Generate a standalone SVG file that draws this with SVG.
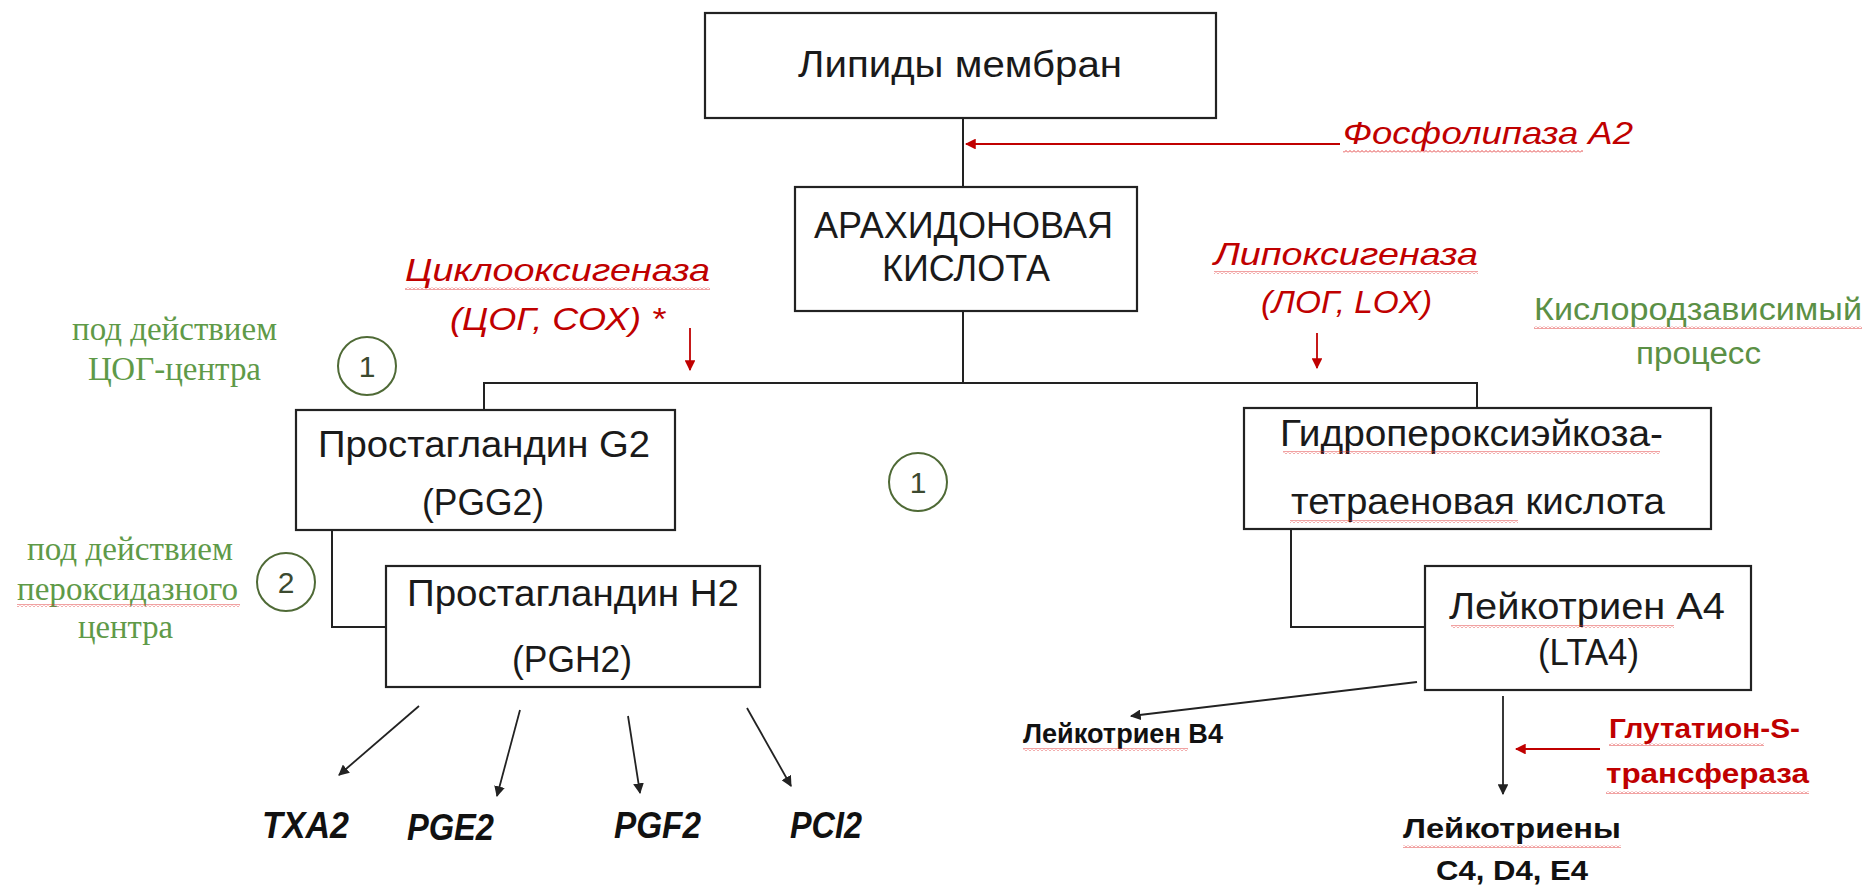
<svg xmlns="http://www.w3.org/2000/svg" width="1870" height="888" viewBox="0 0 1870 888">
<defs>
<style>
.box{fill:#fff;stroke:#222;stroke-width:2.2}
.bt{font-family:"Liberation Sans",Arial,sans-serif;font-size:36px;fill:#1a1a1a}
.red{font-family:"Liberation Sans",Arial,sans-serif;font-size:32px;font-style:italic;fill:#c00000}
.gs{font-family:"Liberation Serif","Times New Roman",serif;font-size:33px;fill:#5f9a48}
.gn{font-family:"Liberation Sans",Arial,sans-serif;font-size:31px;fill:#5b9045}
.bl{font-family:"Liberation Sans",Arial,sans-serif;font-size:28px;font-weight:bold;fill:#111}
.rb{font-family:"Liberation Sans",Arial,sans-serif;font-size:28px;font-weight:bold;fill:#c00000}
.bi{font-family:"Liberation Sans",Arial,sans-serif;font-size:36px;font-weight:bold;font-style:italic;fill:#111}
.num{font-family:"Liberation Sans",Arial,sans-serif;font-size:30px;fill:#3c4a30;text-anchor:middle}
.circ{fill:none;stroke:#4f6a36;stroke-width:2}
.ln{fill:none;stroke:#222;stroke-width:2}
.ar{fill:none;stroke:#222;stroke-width:1.8;marker-end:url(#ah)}
.rar{fill:none;stroke:#c00000;stroke-width:1.8;marker-end:url(#rah)}
.wav{fill:url(#wavy)}
</style>
<marker id="ah" viewBox="0 0 10 10" refX="9" refY="5" markerWidth="6" markerHeight="6" orient="auto" markerUnits="strokeWidth">
<path d="M0,0 L10,5 L0,10 Z" fill="#222"/>
</marker>
<marker id="rah" viewBox="0 0 10 10" refX="9" refY="5" markerWidth="6" markerHeight="6" orient="auto" markerUnits="strokeWidth">
<path d="M0,0 L10,5 L0,10 Z" fill="#c00000"/>
</marker>
<pattern id="wavy" patternUnits="userSpaceOnUse" x="0" y="0" width="4" height="3">
<path d="M0,2.5 L2,0.5 L4,2.5" fill="none" stroke="#e03030" stroke-width="0.9"/>
</pattern>
</defs>

<g id="connectors">
<line class="ln" x1="963" y1="118" x2="963" y2="187"/>
<line class="ln" x1="963" y1="311" x2="963" y2="383"/>
<polyline class="ln" points="484,410 484,383 1477,383 1477,408"/>
<polyline class="ln" points="332,530 332,627 386,627"/>
<polyline class="ln" points="1291,529 1291,627 1425,627"/>
<line class="rar" x1="1340" y1="144" x2="966" y2="144"/>
<line class="rar" x1="690" y1="328" x2="690" y2="370"/>
<line class="rar" x1="1317" y1="333" x2="1317" y2="368"/>
<line class="rar" x1="1600" y1="749" x2="1516" y2="749"/>
<line class="ar" x1="419" y1="706" x2="339" y2="775"/>
<line class="ar" x1="520" y1="710" x2="497" y2="796"/>
<line class="ar" x1="628" y1="716" x2="640" y2="793"/>
<line class="ar" x1="747" y1="708" x2="791" y2="786"/>
<line class="ar" x1="1417" y1="682" x2="1131" y2="716"/>
<line class="ar" x1="1503" y1="696" x2="1503" y2="794"/>
</g>

<g id="lipids">
<rect class="box" x="705" y="13" width="511" height="105"/>
<text class="bt" x="798" y="77" textLength="324" lengthAdjust="spacingAndGlyphs">Липиды мембран</text>
</g>

<g id="arachidonic">
<rect class="box" x="795" y="187" width="342" height="124"/>
<text class="bt" x="814" y="238" textLength="299" lengthAdjust="spacingAndGlyphs">АРАХИДОНОВАЯ</text>
<text class="bt" x="882" y="281" textLength="168" lengthAdjust="spacingAndGlyphs">КИСЛОТА</text>
</g>

<g id="pgg2">
<rect class="box" x="296" y="410" width="379" height="120"/>
<text class="bt" x="318" y="457" textLength="332" lengthAdjust="spacingAndGlyphs">Простагландин G2</text>
<text class="bt" x="422" y="515" textLength="122" lengthAdjust="spacingAndGlyphs">(PGG2)</text>
</g>

<g id="pgh2">
<rect class="box" x="386" y="566" width="374" height="121"/>
<text class="bt" x="407" y="606" textLength="332" lengthAdjust="spacingAndGlyphs">Простагландин H2</text>
<text class="bt" x="512" y="672" textLength="120" lengthAdjust="spacingAndGlyphs">(PGH2)</text>
</g>

<g id="hpete">
<rect class="box" x="1244" y="408" width="467" height="121"/>
<text class="bt" x="1280" y="446" textLength="383" lengthAdjust="spacingAndGlyphs">Гидропероксиэйкоза-</text>
<text class="bt" x="1291" y="514" textLength="374" lengthAdjust="spacingAndGlyphs">тетраеновая кислота</text>
<rect class="wav" x="1283" y="451" width="377" height="3"/>
<rect class="wav" x="1290" y="520" width="228" height="3"/>
</g>

<g id="lta4">
<rect class="box" x="1425" y="566" width="326" height="124"/>
<text class="bt" x="1449" y="619" textLength="276" lengthAdjust="spacingAndGlyphs">Лейкотриен А4</text>
<text class="bt" x="1538" y="665" textLength="101" lengthAdjust="spacingAndGlyphs">(LTA4)</text>
<rect class="wav" x="1451" y="625" width="223" height="3"/>
</g>

<g id="pla2">
<text class="red" x="1343" y="144" textLength="290" lengthAdjust="spacingAndGlyphs">Фосфолипаза А2</text>
<rect class="wav" x="1343" y="150" width="240" height="3"/>
</g>

<g id="cox">
<text class="red" x="405" y="281" textLength="305" lengthAdjust="spacingAndGlyphs">Циклооксигеназа</text>
<rect class="wav" x="405" y="287" width="305" height="3"/>
<text class="red" x="450" y="330" textLength="215" lengthAdjust="spacingAndGlyphs">(ЦОГ, СОХ) *</text>
</g>

<g id="lox">
<text class="red" x="1214" y="265" textLength="264" lengthAdjust="spacingAndGlyphs">Липоксигеназа</text>
<rect class="wav" x="1214" y="271" width="264" height="3"/>
<text class="red" x="1261" y="313" textLength="171" lengthAdjust="spacingAndGlyphs">(ЛОГ, LOX)</text>
</g>

<g id="oxygen-note">
<text class="gn" x="1534" y="320" textLength="328" lengthAdjust="spacingAndGlyphs">Кислородзависимый</text>
<rect class="wav" x="1534" y="326" width="328" height="3"/>
<text class="gn" x="1636" y="364" textLength="125" lengthAdjust="spacingAndGlyphs">процесс</text>
</g>

<g id="cox-center-note">
<text class="gs" x="72" y="340" textLength="205" lengthAdjust="spacingAndGlyphs">под действием</text>
<text class="gs" x="88" y="380" textLength="173" lengthAdjust="spacingAndGlyphs">ЦОГ-центра</text>
<circle class="circ" cx="367" cy="366" r="29"/>
<text class="num" x="367" y="377">1</text>
</g>

<g id="perox-center-note">
<text class="gs" x="27" y="560" textLength="206" lengthAdjust="spacingAndGlyphs">под действием</text>
<text class="gs" x="17" y="600" textLength="221" lengthAdjust="spacingAndGlyphs">пероксидазного</text>
<rect class="wav" x="17" y="604" width="223" height="3"/>
<text class="gs" x="78" y="638" textLength="95" lengthAdjust="spacingAndGlyphs">центра</text>
<circle class="circ" cx="286" cy="582" r="29"/>
<text class="num" x="286" y="593">2</text>
</g>

<g id="mid-circle">
<circle class="circ" cx="918" cy="482" r="29"/>
<text class="num" x="918" y="493">1</text>
</g>

<g id="products-pg">
<text class="bi" x="262" y="838" textLength="87" lengthAdjust="spacingAndGlyphs">TXA2</text>
<text class="bi" x="407" y="840" textLength="87" lengthAdjust="spacingAndGlyphs">PGE2</text>
<text class="bi" x="614" y="838" textLength="87" lengthAdjust="spacingAndGlyphs">PGF2</text>
<text class="bi" x="790" y="838" textLength="72" lengthAdjust="spacingAndGlyphs">PCI2</text>
</g>

<g id="ltb4">
<text class="bl" x="1023" y="743" textLength="200" lengthAdjust="spacingAndGlyphs">Лейкотриен В4</text>
<rect class="wav" x="1023" y="748" width="165" height="3"/>
</g>

<g id="gst">
<text class="rb" x="1609" y="738" textLength="191" lengthAdjust="spacingAndGlyphs">Глутатион-S-</text>
<rect class="wav" x="1609" y="743" width="155" height="3"/>
<text class="rb" x="1606" y="783" textLength="203" lengthAdjust="spacingAndGlyphs">трансфераза</text>
<rect class="wav" x="1606" y="791" width="203" height="3"/>
</g>

<g id="ltc4">
<text class="bl" x="1403" y="838" textLength="218" lengthAdjust="spacingAndGlyphs">Лейкотриены</text>
<rect class="wav" x="1403" y="845" width="218" height="3"/>
<text class="bl" x="1436" y="880" textLength="152" lengthAdjust="spacingAndGlyphs">C4, D4, E4</text>
</g>
</svg>
